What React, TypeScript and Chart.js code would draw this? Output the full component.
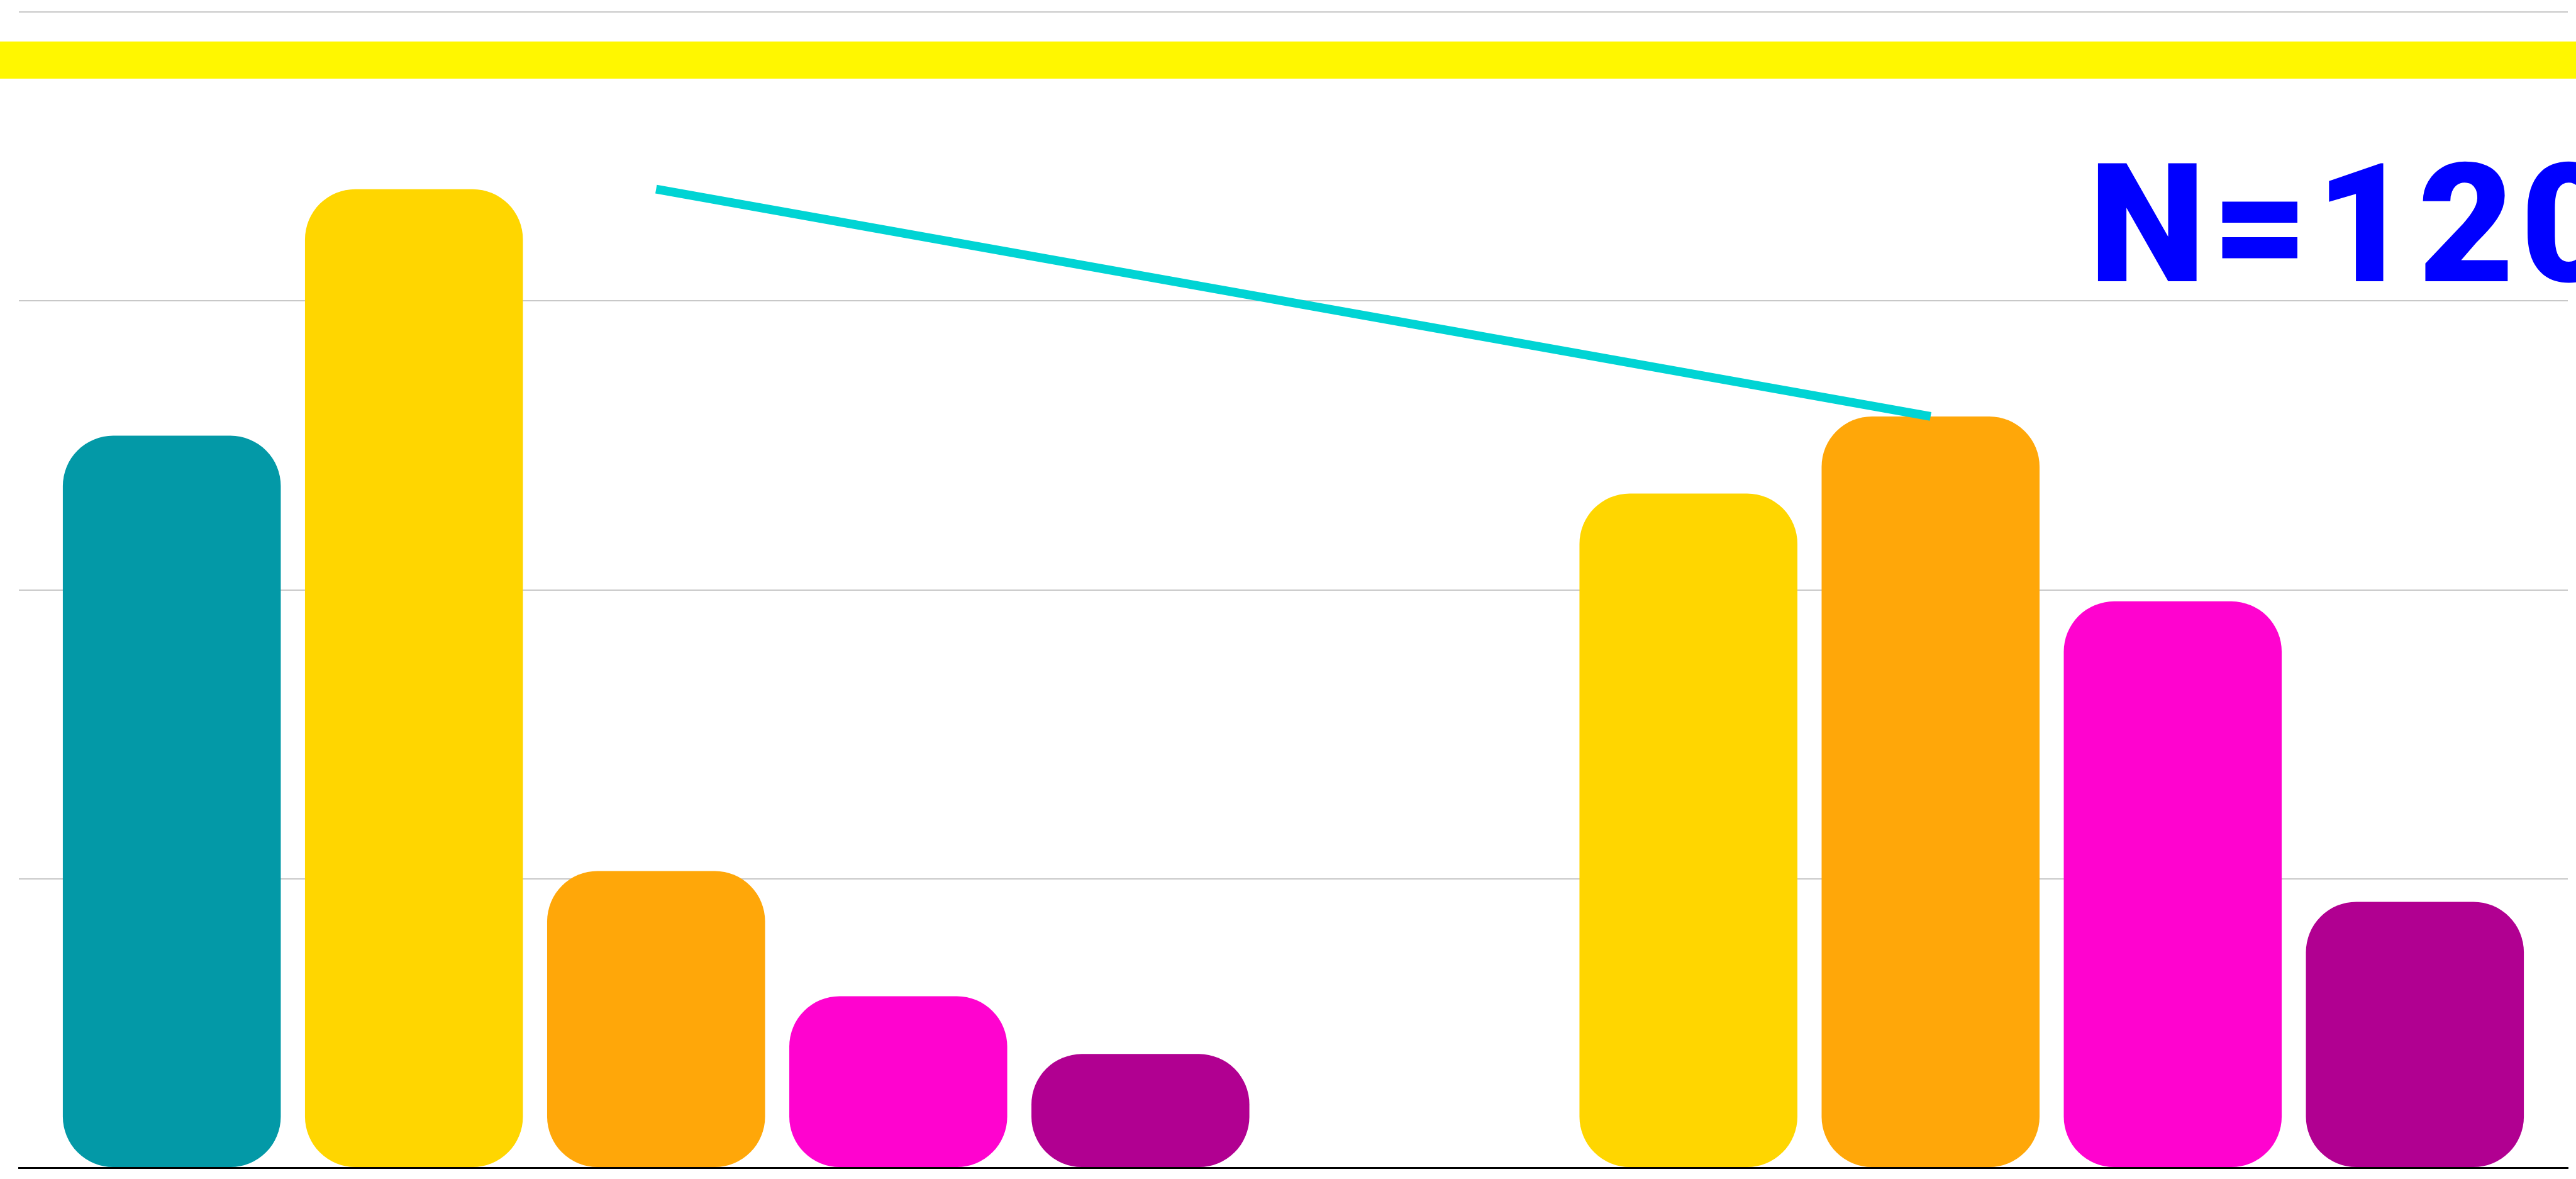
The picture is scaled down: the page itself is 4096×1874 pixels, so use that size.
import React, { useEffect, useRef } from "react";
import { Chart, registerables } from "chart.js";

Chart.register(...registerables);

const categories = ["A", "B"];
const tealValues = [38, null];
const yellowValues = [50.8, 35];
const orangeValues = [15.4, 39];
const pinkValues = [8.9, 29.4];
const purpleValues = [5.9, 13.8];
const lineValues = [50.8, 39];
const yTicks = { min: 0, max: 60, step: 15 };
const annotationText = "N=120";

const W = 4096;
const H = 1874;

const overlayPlugin = {
  id: "overlay",
  beforeDraw(chart: any) {
    const ctx = chart.ctx;
    ctx.save();
    ctx.fillStyle = "#FFF700";
    ctx.fillRect(0, 66, chart.width, 59);
    ctx.restore();
  },
  afterDraw(chart: any) {
    const ctx = chart.ctx;
    ctx.save();
    const family = "Roboto, Inter, 'Liberation Sans', sans-serif";
    ctx.font = `900 100px ${family}`;
    const asc = ctx.measureText("N").actualBoundingBoxAscent || 71;
    const size = (190 / asc) * 100;
    ctx.font = `900 ${size}px ${family}`;
    const mN = ctx.measureText("N");
    const x = 3334 + mN.actualBoundingBoxLeft;
    const adv = ctx.measureText("N=1").width;
    const m2 = ctx.measureText("2");
    let ls = (3849 + m2.actualBoundingBoxLeft - x - adv) / 3;
    if (!isFinite(ls)) ls = 0;
    (ctx as any).letterSpacing = `${ls}px`;
    ctx.fillStyle = "#0000FF";
    ctx.textBaseline = "alphabetic";
    ctx.textAlign = "left";
    ctx.fillText(annotationText, x, 447);
    ctx.restore();
  },
};

export default function App() {
  const ref = useRef<HTMLCanvasElement | null>(null);
  useEffect(() => {
    if (!ref.current) return;
    const barCommon = {
      type: "bar" as const,
      borderRadius: 80,
      borderSkipped: false,
      barPercentage: 0.9,
      categoryPercentage: 0.95,
    };
    const chart = new Chart(ref.current, {
      type: "bar",
      data: {
        labels: categories,
        datasets: [
          {
            type: "line",
            data: lineValues,
            borderColor: "#00D4D4",
            borderWidth: 14,
            pointRadius: 0,
            fill: false,
            tension: 0,
            order: -1,
          } as any,
          { ...barCommon, data: tealValues, backgroundColor: "#0399A7" },
          { ...barCommon, data: yellowValues, backgroundColor: "#FFD600" },
          { ...barCommon, data: orangeValues, backgroundColor: "#FFA709" },
          { ...barCommon, data: pinkValues, backgroundColor: "#FF03CF" },
          { ...barCommon, data: purpleValues, backgroundColor: "#B10091" },
        ],
      },
      options: {
        responsive: false,
        animation: false,
        devicePixelRatio: 1,
        layout: { padding: { left: 30, top: 19, right: 13, bottom: 18 } },
        plugins: { legend: { display: false }, tooltip: { enabled: false } },
        scales: {
          x: {
            grid: { display: false, drawTicks: false },
            ticks: { display: false },
            border: { display: true, color: "#000000", width: 3 },
          },
          y: {
            min: yTicks.min,
            max: yTicks.max,
            ticks: { display: false, stepSize: yTicks.step },
            grid: { color: "#C8C8C8", lineWidth: 2, drawTicks: false },
            border: { display: false },
          },
        },
      },
      plugins: [overlayPlugin],
    });
    return () => chart.destroy();
  }, []);
  return (
    <div style={{ position: "fixed", left: 0, top: 0, width: W, height: H, background: "#fff" }}>
      <canvas ref={ref} width={W} height={H} style={{ display: "block", width: W, height: H }} />
    </div>
  );
}
